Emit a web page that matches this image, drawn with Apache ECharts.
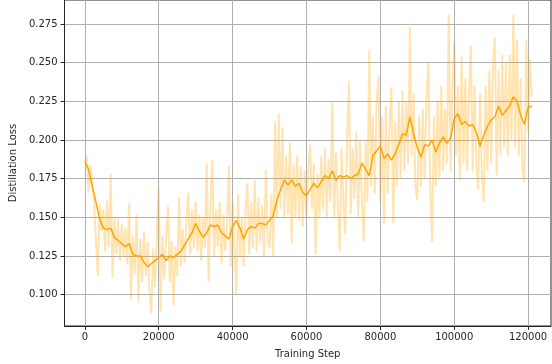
<!DOCTYPE html>
<html>
<head>
<meta charset="utf-8">
<script src="https://cdn.jsdelivr.net/npm/echarts@6/dist/echarts.min.js"></script>
<style>
    html, body { margin: 0; padding: 0; background: #fff; }
    #distill-loss { width: 552px; height: 364px; }
</style>
</head>
<body>
<div id="distill-loss"></div>
<script>
// raw loss logged every 500 steps, smoothed curve every 1000 steps
const rawStep = 500;
const smoothStep = 1000;

const rawLoss = [
    0.186, 0.190, 0.166, 0.184, 0.172, 0.160, 0.135, 0.112, 0.158, 0.141,
    0.155, 0.128, 0.161, 0.131, 0.178, 0.111, 0.150, 0.126, 0.149, 0.122,
    0.146, 0.125, 0.143, 0.120, 0.159, 0.097, 0.138, 0.113, 0.152, 0.095,
    0.136, 0.108, 0.141, 0.112, 0.134, 0.102, 0.088, 0.130, 0.105, 0.138,
    0.170, 0.089, 0.138, 0.110, 0.137, 0.157, 0.108, 0.135, 0.093, 0.131,
    0.112, 0.163, 0.118, 0.142, 0.120, 0.149, 0.166, 0.126, 0.155, 0.130,
    0.160, 0.128, 0.152, 0.122, 0.150, 0.130, 0.185, 0.108, 0.158, 0.187,
    0.125, 0.155, 0.131, 0.160, 0.120, 0.152, 0.128, 0.145, 0.183, 0.118,
    0.160, 0.128, 0.100, 0.165, 0.124, 0.150, 0.118, 0.155, 0.172, 0.126,
    0.160, 0.130, 0.174, 0.128, 0.163, 0.133, 0.158, 0.125, 0.181, 0.135,
    0.130, 0.165, 0.124, 0.212, 0.150, 0.217, 0.155, 0.208, 0.150, 0.190,
    0.152, 0.198, 0.133, 0.185, 0.150, 0.190, 0.148, 0.183, 0.144, 0.180,
    0.150, 0.182, 0.197, 0.155, 0.185, 0.126, 0.178, 0.150, 0.190, 0.155,
    0.195, 0.150, 0.188, 0.160, 0.224, 0.150, 0.192, 0.158, 0.128, 0.195,
    0.160, 0.139, 0.200, 0.238, 0.152, 0.195, 0.162, 0.205, 0.150, 0.200,
    0.160, 0.134, 0.200, 0.160, 0.258, 0.170, 0.215, 0.165, 0.225, 0.241,
    0.160, 0.215, 0.146, 0.222, 0.165, 0.210, 0.234, 0.146, 0.212, 0.170,
    0.225, 0.175, 0.232, 0.180, 0.225, 0.185, 0.273, 0.190, 0.230, 0.170,
    0.161, 0.215, 0.170, 0.220, 0.175, 0.230, 0.250, 0.170, 0.134, 0.215,
    0.170, 0.225, 0.175, 0.235, 0.180, 0.220, 0.185, 0.281, 0.180, 0.230,
    0.263, 0.190, 0.235, 0.174, 0.254, 0.185, 0.240, 0.180, 0.230, 0.261,
    0.180, 0.235, 0.185, 0.168, 0.230, 0.175, 0.160, 0.235, 0.180, 0.245,
    0.185, 0.250, 0.266, 0.177, 0.245, 0.190, 0.255, 0.195, 0.250, 0.190,
    0.255, 0.200, 0.281, 0.195, 0.265, 0.190, 0.240, 0.180, 0.173, 0.265,
    0.205, 0.252, 0.228
];

const smoothLoss = [
    0.186, 0.181, 0.170, 0.160, 0.149, 0.143, 0.142, 0.143, 0.137, 0.135,
    0.133, 0.131, 0.133, 0.126, 0.125, 0.125, 0.121, 0.118, 0.120, 0.122,
    0.124, 0.126, 0.122, 0.125, 0.124, 0.126, 0.128, 0.132, 0.136, 0.140,
    0.146, 0.141, 0.137, 0.140, 0.145, 0.144, 0.145, 0.140, 0.138, 0.136,
    0.144, 0.148, 0.143, 0.136, 0.142, 0.144, 0.143, 0.146, 0.146, 0.145,
    0.148, 0.151, 0.161, 0.168, 0.174, 0.171, 0.174, 0.170, 0.172, 0.166,
    0.164, 0.168, 0.172, 0.169, 0.173, 0.177, 0.175, 0.180, 0.174, 0.177,
    0.176, 0.177, 0.175, 0.177, 0.178, 0.185, 0.181, 0.177, 0.190, 0.193,
    0.196, 0.188, 0.191, 0.187, 0.191, 0.197, 0.204, 0.203, 0.215, 0.204,
    0.195, 0.189, 0.197, 0.196, 0.200, 0.192, 0.198, 0.202, 0.198, 0.201,
    0.214, 0.217, 0.210, 0.212, 0.209, 0.210, 0.205, 0.196, 0.203, 0.209,
    0.213, 0.215, 0.222, 0.216, 0.219, 0.222, 0.228, 0.225, 0.216, 0.210,
    0.221, 0.222
];

const xTicks = [0, 20000, 40000, 60000, 80000, 100000, 120000];
const yTicks = [0.100, 0.125, 0.150, 0.175, 0.200, 0.225, 0.250, 0.275];

function toPairs(values, step) {
    return values.map(function (v, i) { return [i * step, v]; });
}

var chart = echarts.init(document.getElementById('distill-loss'), null, { renderer: 'canvas' });

var textStyle = { fontFamily: 'DejaVu Sans', fontSize: 10, color: '#262626' };

var option = {
    animation: false,
    backgroundColor: '#fff',
    grid: {
        left: 64, right: 1, top: 0, bottom: 37,
        show: true,
        borderColor: '#262626',
        borderWidth: 1
    },
    xAxis: {
        type: 'value',
        min: -5500,
        max: 126200,
        name: 'Training Step',
        nameLocation: 'middle',
        nameGap: 23,
        nameTextStyle: textStyle,
        axisLine: { show: true, onZero: false, lineStyle: { color: '#262626', width: 1 } },
        axisTick: { show: true, customValues: xTicks, length: 4, lineStyle: { color: '#262626' } },
        axisLabel: Object.assign({
            customValues: xTicks,
            margin: 6,
            formatter: function (v) { return String(v); }
        }, textStyle),
        splitLine: { show: true, lineStyle: { color: '#b0b0b0', width: 1 } }
    },
    yAxis: {
        type: 'value',
        min: 0.0797,
        max: 0.2905,
        name: 'Distillation Loss',
        nameLocation: 'middle',
        nameGap: 37,
        nameTextStyle: textStyle,
        axisLine: { show: true, onZero: false, lineStyle: { color: '#262626', width: 1 } },
        axisTick: { show: true, customValues: yTicks, length: 4, lineStyle: { color: '#262626' } },
        axisLabel: Object.assign({
            customValues: yTicks,
            margin: 7,
            formatter: function (v) { return v.toFixed(3); }
        }, textStyle),
        splitLine: { show: true, lineStyle: { color: '#b0b0b0', width: 1 } }
    },
    series: [
        {
            name: 'raw',
            type: 'line',
            data: toPairs(rawLoss, rawStep),
            showSymbol: false,
            symbol: 'none',
            lineStyle: { color: '#ffa500', width: 2, opacity: 0.3 },
            z: 2
        },
        {
            name: 'smoothed',
            type: 'line',
            data: toPairs(smoothLoss, smoothStep),
            showSymbol: false,
            symbol: 'none',
            lineStyle: { color: '#ffa500', width: 1.5 },
            z: 3
        }
    ]
};

chart.setOption(option);
</script>
</body>
</html>
